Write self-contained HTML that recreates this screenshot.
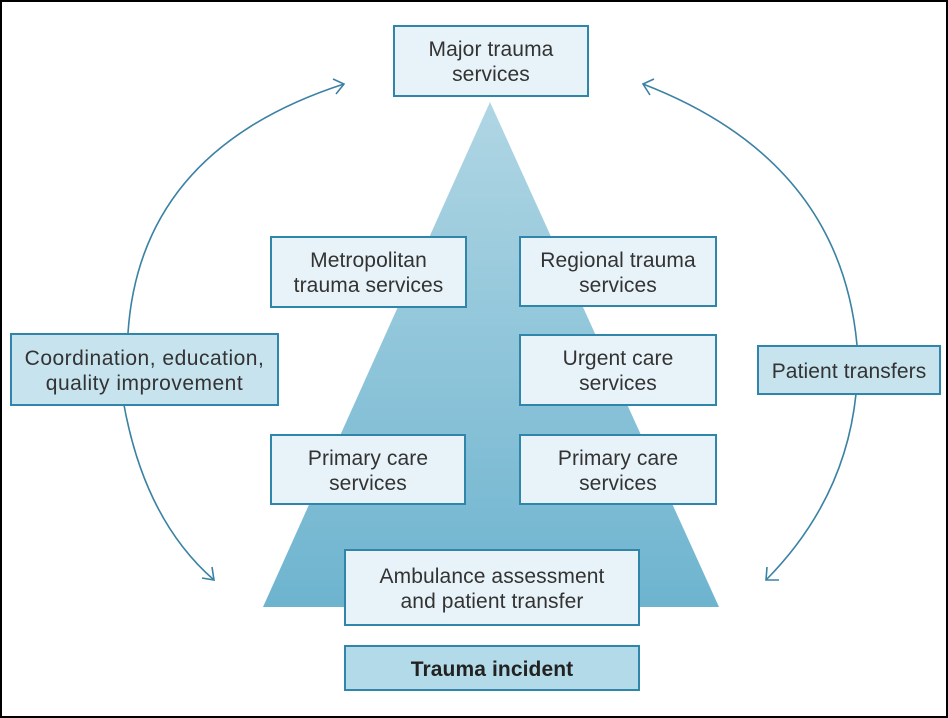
<!DOCTYPE html>
<html><head><meta charset="utf-8"><style>
html,body{margin:0;padding:0;background:#fff}
body{width:948px;height:718px;position:relative;overflow:hidden;font-family:"Liberation Sans",Arial,sans-serif}
.frame{position:absolute;left:0;top:0;width:944px;height:714px;border:2px solid #000}
.b{position:absolute;box-sizing:border-box;border:2px solid #2f86aa;background:#e7f3f8;color:#333;font-size:21px;line-height:25px;padding-top:2px;display:flex;align-items:center;justify-content:center;text-align:center;letter-spacing:0.1px;white-space:nowrap}
.d{background:#c6e3ee}
</style></head><body>
<div class="frame"></div>
<svg width="948" height="718" style="position:absolute;left:0;top:0">
<defs><linearGradient id="g" x1="0" y1="0" x2="0" y2="1"><stop offset="0" stop-color="#b0d6e4"/><stop offset="1" stop-color="#6eb4cf"/></linearGradient></defs>
<polygon points="490,102 263,607 719,607" fill="url(#g)"/>
<g fill="none" stroke="#3a82a3" stroke-width="1.6">
<path d="M128,333 Q140,150 344,84"/>
<path d="M333,79 L344,84 L336,94"/>
<path d="M124,405 Q145,520 214,580"/>
<path d="M212,567 L214,580 L202,578"/>
<path d="M857,345 Q840,160 643,84"/>
<path d="M654,79 L643,84 L650,95"/>
<path d="M856,394 Q845,500 766,580"/>
<path d="M767,567 L766,580 L779,580"/>
</g>
</svg>
<div class="b" style="left:393px;top:25px;width:196px;height:72px">Major trauma<br>services</div>
<div class="b" style="left:270px;top:236px;width:197px;height:72px">Metropolitan<br>trauma services</div>
<div class="b" style="left:519px;top:236px;width:198px;height:71px">Regional trauma<br>services</div>
<div class="b" style="left:519px;top:334px;width:198px;height:72px">Urgent care<br>services</div>
<div class="b" style="left:270px;top:434px;width:196px;height:71px">Primary care<br>services</div>
<div class="b" style="left:519px;top:434px;width:198px;height:71px">Primary care<br>services</div>
<div class="b" style="left:344px;top:549px;width:296px;height:77px">Ambulance assessment<br>and patient transfer</div>
<div class="b" style="left:344px;top:645px;width:296px;height:46px;background:#b3dae8;font-weight:bold;color:#222">Trauma incident</div>
<div class="b d" style="left:10px;top:333px;width:269px;height:73px;letter-spacing:0.5px">Coordination, education,<br>quality improvement</div>
<div class="b d" style="left:757px;top:345px;width:184px;height:50px">Patient transfers</div>
</body></html>
